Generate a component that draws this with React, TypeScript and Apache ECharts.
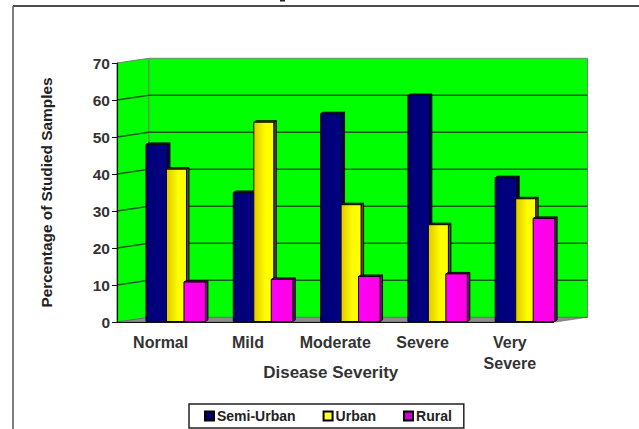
import React, { useEffect, useRef } from "react";
import * as echarts from "echarts";

const categories = ["Normal", "Mild", "Moderate", "Severe", "Very\nSevere"];
const semiUrban = [48, 35, 56.3, 61.2, 39];
const urban = [41.3, 54, 31.7, 26.3, 33.3];
const rural = [10.8, 11.5, 12.3, 13, 28];
const yTicks = [10, 20, 30, 40, 50, 60, 70];

const DEPTH_X = 32;
const DEPTH_Y = -4.7;
const FONT = "'Liberation Sans', Arial, sans-serif";

function wallRender(_params: any, api: any) {
  const v = api.value(0);
  const band = api.size([1, 0])[0];
  const first = api.coord([0, 0]);
  const top = api.coord([0, 70]);
  const l = first[0] - band / 2;
  const r = l + band * categories.length;
  const b = first[1];
  const t = top[1];
  const backR = r + DEPTH_X + 2;
  if (v === 0) {
    const children: any[] = [
      { type: "polygon", shape: { points: [[l, t], [l + DEPTH_X, t + DEPTH_Y], [l + DEPTH_X, b + DEPTH_Y], [l, b]] }, style: { fill: "#00ff00", stroke: "#5f8f5f", lineWidth: 1 } },
      { type: "rect", shape: { x: l + DEPTH_X, y: t + DEPTH_Y, width: backR - l - DEPTH_X, height: b - t }, style: { fill: "#00ff00", stroke: "#5f8f5f", lineWidth: 1 } },
      { type: "polygon", shape: { points: [[l, b], [r + 2, b], [backR, b + DEPTH_Y], [l + DEPTH_X, b + DEPTH_Y]] }, style: { fill: "#8c8c8c", stroke: "#555", lineWidth: 0.5 } },
    ];
    return { type: "group", children };
  }
  if (v === 70) return null;
  const y = api.coord([0, v])[1];
  return {
    type: "polyline",
    shape: { points: [[l, y], [l + DEPTH_X, y + DEPTH_Y], [backR, y + DEPTH_Y]] },
    style: { fill: "none", stroke: "#1c5a1c", lineWidth: 1.4 },
  };
}

function barRender(offset: number, frontW: number, colors: string[]) {
  return (_params: any, api: any) => {
    const idx = api.value(0);
    const val = api.value(1);
    const band = api.size([1, 0])[0];
    const c = api.coord([idx, val]);
    const base = api.coord([idx, 0])[1] - 0.5;
    const x = c[0] - band / 2 + offset * band;
    const y = c[1];
    const w = frontW * band;
    const sx = 2.5;
    const sy = -1.5;
    const stroke = { stroke: "#0a0a0a", lineWidth: 1 };
    return {
      type: "group",
      children: [
        { type: "polygon", shape: { points: [[x + w, y], [x + w + sx, y + sy], [x + w + sx, base + sy], [x + w, base]] }, style: { fill: colors[2], ...stroke } },
        { type: "polygon", shape: { points: [[x, y], [x + sx, y + sy], [x + w + sx, y + sy], [x + w, y]] }, style: { fill: colors[2], ...stroke } },
        {
          type: "rect",
          shape: { x, y, width: w, height: base - y },
          style: {
            fill: new echarts.graphic.LinearGradient(0, 0, 1, 0, [
              { offset: 0, color: colors[0] },
              { offset: 0.6, color: colors[1] },
              { offset: 1, color: colors[1] },
            ]),
            ...stroke,
          },
        },
      ],
    };
  };
}

const toData = (vals: number[]) => vals.map((v, i) => [i, v]);

export default function App() {
  const ref = useRef<HTMLDivElement>(null);
  useEffect(() => {
    const chart = echarts.init(ref.current!, undefined, { renderer: "svg" });
    const series = (name: string, vals: number[], legendColor: string, offset: number, w: number, colors: string[]) => ({
      name,
      type: "custom",
      data: toData(vals),
      z: 3,
      itemStyle: { color: legendColor, borderColor: "#000", borderWidth: 1 },
      renderItem: barRender(offset, w, colors),
      encode: { x: 0, y: 1 },
    });
    chart.setOption({
      animation: false,
      backgroundColor: "#fff",
      textStyle: { fontFamily: FONT },
      grid: { left: 117, top: 63, width: 436.5, height: 259, containLabel: false },
      xAxis: {
        type: "category",
        data: categories,
        z: 6,
        axisLine: { lineStyle: { color: "#111", width: 1.2 } },
        axisTick: { length: 5, lineStyle: { color: "#111" } },
        axisLabel: { color: "#333", fontSize: 16, fontWeight: "bold", fontFamily: FONT, margin: 10, lineHeight: 21, interval: 0 },
        name: "Disease Severity",
        nameLocation: "middle",
        nameGap: 42,
        nameMoveOverlap: false,
        nameTextStyle: { color: "#333", fontSize: 17, fontWeight: "bold", fontFamily: FONT, padding: [0, 9, 0, 0] },
      },
      yAxis: {
        type: "value",
        min: 0,
        max: 70,
        interval: 10,
        z: 6,
        axisLine: { show: true, lineStyle: { color: "#111", width: 1.2 } },
        axisTick: { show: true, length: 5, lineStyle: { color: "#111" } },
        splitLine: { show: false },
        axisLabel: { color: "#333", fontSize: 15.5, fontWeight: "bold", fontFamily: FONT, margin: 7 },
        name: "Percentage of Studied Samples",
        nameLocation: "middle",
        nameGap: 63,
        nameRotate: 90,
        nameTextStyle: { color: "#222", fontSize: 15.4, fontWeight: "bold", fontFamily: FONT },
      },
      legend: {
        left: 189,
        top: 404,
        padding: [5, 12, 5, 15],
        itemGap: 27,
        itemWidth: 9,
        itemHeight: 9,
        icon: "rect",
        borderColor: "#222",
        borderWidth: 1.5,
        textStyle: { fontSize: 14, fontFamily: FONT, fontWeight: "bold", color: "#222", padding: [0, 0, 0, -2] },
        data: ["Semi-Urban", "Urban", "Rural"],
      },
      graphic: [
        { type: "line", shape: { x1: 13, y1: 6, x2: 639, y2: 6 }, style: { stroke: "#111", lineWidth: 1.5 } },
        { type: "line", shape: { x1: 13, y1: 6, x2: 13, y2: 429 }, style: { stroke: "#555", lineWidth: 1.5 } },
        { type: "rect", shape: { x: 280, y: 0, width: 5, height: 1.5 }, style: { fill: "#222" } },
      ],
      series: [
        {
          name: "walls",
          type: "custom",
          z: 1,
          data: [0, ...yTicks].map((v) => [v]),
          renderItem: wallRender,
          encode: { y: 0 },
          silent: true,
        },
        series("Semi-Urban", semiUrban, "#000066", 0.332, 0.246, ["#000070", "#000080", "#000050"]),
        series("Urban", urban, "#ffff33", 0.567, 0.229, ["#e0c800", "#ffff00", "#5a5000"]),
        series("Rural", rural, "#cc00cc", 0.767, 0.246, ["#ff00ff", "#ff00e8", "#800080"]),
      ],
    });
    return () => chart.dispose();
  }, []);
  return <div ref={ref} style={{ position: "fixed", left: 0, top: 0, width: 639, height: 429 }} />;
}
